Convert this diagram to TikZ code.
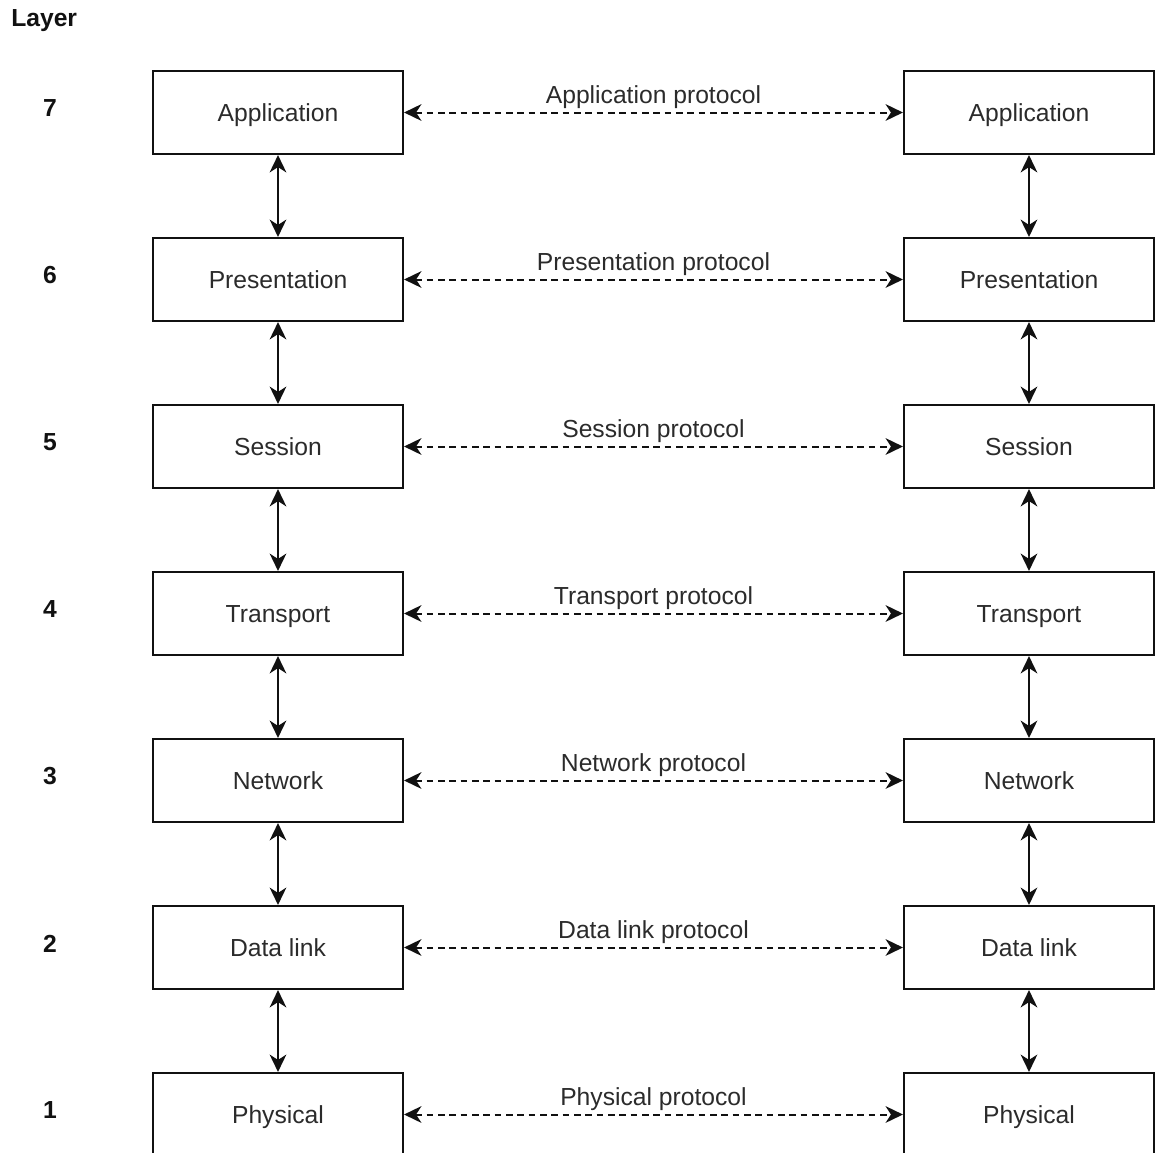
\documentclass[tikz,border=0pt]{standalone}
\usepackage{fontspec}
\setmainfont{Liberation Sans}
\usetikzlibrary{arrows.meta}
\definecolor{ink}{HTML}{111111}
\definecolor{txt}{HTML}{2B2B2B}
\begin{document}
\begin{tikzpicture}[x=0.75pt,y=-0.75pt,
  font=\fontsize{18.5pt}{22pt}\selectfont,
  >={Stealth[length=13pt,width=12.5pt,inset=4pt]},
  layerbox/.style={draw=ink, line width=1.6pt, minimum width=187.5pt, minimum height=62.25pt,
    inner sep=0pt, text=txt, text height=13.3pt, text depth=0pt},
  peer/.style={<->, line width=1.5pt, draw=ink, dash pattern=on 5pt off 3.5pt},
  stack/.style={<->, line width=1.5pt, draw=ink},
  proto/.style={anchor=base, text=txt, inner sep=0pt},
  num/.style={font=\fontsize{18.5pt}{22pt}\selectfont\bfseries, text=ink}]
\useasboundingbox (0,0) rectangle (1157,1153);
\clip (0,0) rectangle (1157,1153);

\node[num, anchor=west, inner sep=0pt] (layer) at (11,21) {Layer};

\foreach \k/\name/\proto in {7/Application/Application protocol,
                             6/Presentation/Presentation protocol,
                             5/Session/Session protocol,
                             4/Transport/Transport protocol,
                             3/Network/Network protocol,
                             2/Data link/Data link protocol,
                             1/Physical/Physical protocol}{
  \pgfmathsetmacro{\yc}{112.5+167*(7-\k)}
  \node[layerbox] (L\k) at (278,\yc) {\name};
  \node[layerbox] (R\k) at (1029,\yc) {\name};
  \node[num] (n\k) at (50,\yc-4) {\k};
  \draw[peer] (L\k.east) -- (R\k.west);
  \node[proto] (p\k) at (653.5,\yc-9) {\proto};
}

\foreach \a/\b in {7/6,6/5,5/4,4/3,3/2,2/1}{
  \draw[stack] (L\a.south) -- (L\b.north);
  \draw[stack] (R\a.south) -- (R\b.north);
}
\end{tikzpicture}
\end{document}
